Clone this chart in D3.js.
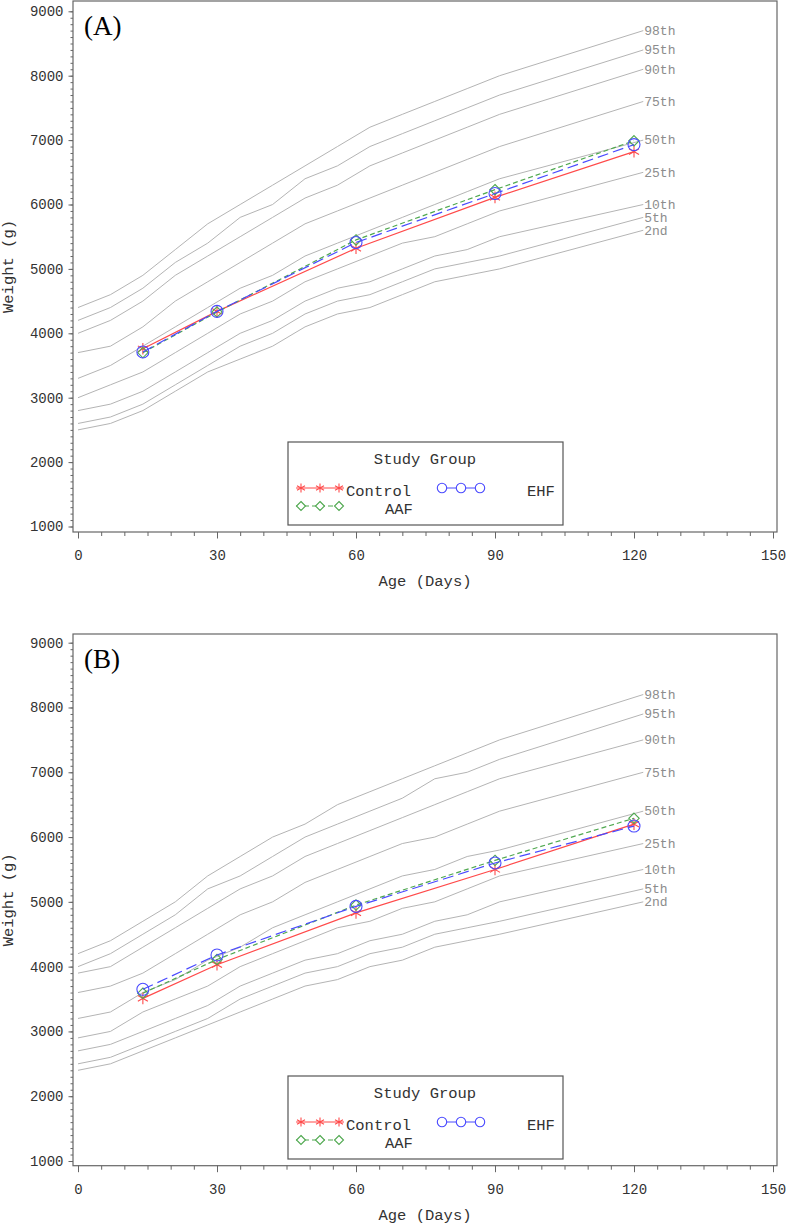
<!DOCTYPE html>
<html>
<head>
<meta charset="utf-8">
<script src="https://cdn.jsdelivr.net/npm/d3@7/dist/d3.min.js"></script>
<style>
  html, body { margin: 0; padding: 0; background: #fff; }
  svg { display: block; }
</style>
</head>
<body>
<svg id="chart" width="786" height="1227"></svg>
<script>
// ---------- DATA ----------
const ages = [0, 7, 14, 21, 28, 35, 42, 49, 56, 63, 70, 77, 84, 91, 122];
const percentileLabels = ["2nd", "5th", "10th", "25th", "50th", "75th", "90th", "95th", "98th"];

// Reference weight curves (g), one row per percentile (panel A)
const boysCurves = [
  [2500, 2600, 2800, 3100, 3400, 3600, 3800, 4100, 4300, 4400, 4600, 4800, 4900, 5000, 5600],
  [2600, 2700, 2900, 3200, 3500, 3800, 4000, 4300, 4500, 4600, 4800, 5000, 5100, 5200, 5800],
  [2800, 2900, 3100, 3400, 3700, 4000, 4200, 4500, 4700, 4800, 5000, 5200, 5300, 5500, 6000],
  [3000, 3200, 3400, 3700, 4000, 4300, 4500, 4800, 5000, 5200, 5400, 5500, 5700, 5900, 6500],
  [3300, 3500, 3800, 4100, 4400, 4700, 4900, 5200, 5400, 5600, 5800, 6000, 6200, 6400, 7000],
  [3700, 3800, 4100, 4500, 4800, 5100, 5400, 5700, 5900, 6100, 6300, 6500, 6700, 6900, 7600],
  [4000, 4200, 4500, 4900, 5200, 5500, 5800, 6100, 6300, 6600, 6800, 7000, 7200, 7400, 8100],
  [4200, 4400, 4700, 5100, 5400, 5800, 6000, 6400, 6600, 6900, 7100, 7300, 7500, 7700, 8400],
  [4400, 4600, 4900, 5300, 5700, 6000, 6300, 6600, 6900, 7200, 7400, 7600, 7800, 8000, 8700]
];
// Reference weight curves (g), one row per percentile (panel B)
const girlsCurves = [
  [2400, 2500, 2700, 2900, 3100, 3300, 3500, 3700, 3800, 4000, 4100, 4300, 4400, 4500, 5000],
  [2500, 2600, 2800, 3000, 3200, 3500, 3700, 3900, 4000, 4200, 4300, 4500, 4600, 4700, 5200],
  [2700, 2800, 3000, 3200, 3400, 3700, 3900, 4100, 4200, 4400, 4500, 4700, 4800, 5000, 5500],
  [2900, 3000, 3300, 3500, 3700, 4000, 4200, 4400, 4600, 4700, 4900, 5000, 5200, 5400, 5900],
  [3200, 3300, 3600, 3800, 4100, 4300, 4600, 4800, 5000, 5200, 5400, 5500, 5700, 5800, 6400],
  [3600, 3700, 3900, 4200, 4500, 4800, 5000, 5300, 5500, 5700, 5900, 6000, 6200, 6400, 7000],
  [3900, 4000, 4300, 4600, 4900, 5200, 5400, 5700, 5900, 6100, 6300, 6500, 6700, 6900, 7500],
  [4000, 4200, 4500, 4800, 5200, 5400, 5700, 6000, 6200, 6400, 6600, 6900, 7000, 7200, 7900],
  [4200, 4400, 4700, 5000, 5400, 5700, 6000, 6200, 6500, 6700, 6900, 7100, 7300, 7500, 8200]
];

const visitDays = [14, 30, 60, 90, 120];
const groupNames = ["Control", "AAF", "EHF"];
// Panel A
const controlA = [3760, 4340, 5320, 6110, 6820];
const aafA     = [3700, 4330, 5450, 6230, 6990];
const ehfA     = [3710, 4340, 5410, 6170, 6930];
// Panel B
const controlB = [3510, 4030, 4830, 5500, 6200];
const aafB     = [3590, 4110, 4950, 5640, 6290];
const ehfB     = [3650, 4180, 4930, 5600, 6170];

const xMajorTicks = [0, 30, 60, 90, 120, 150];
const yMajorTicks = [1000, 2000, 3000, 4000, 5000, 6000, 7000, 8000, 9000];

// ---------- STYLE ----------
const MONO = "'Liberation Mono', 'DejaVu Sans Mono', monospace";
const AXIS_COLOR = "#666";
const TEXT_COLOR = "#333";
const CURVE_COLOR = "#b4b4b4";
const groupStyle = {
  Control: { color: "#ff4a4a", dash: null, symbol: "asterisk" },
  AAF:     { color: "#4fa84f", dash: "5,3", symbol: "diamond" },
  EHF:     { color: "#4a4aff", dash: "11,5", symbol: "circle" }
};

const svg = d3.select("#chart");

function markerPath(type, r) {
  if (type === "asterisk") {
    const dx = r * Math.cos(Math.PI / 6), dy = r * Math.sin(Math.PI / 6);
    return `M0,${-r}L0,${r}M${-dx},${-dy}L${dx},${dy}M${-dx},${dy}L${dx},${-dy}`;
  }
  if (type === "diamond") {
    return `M0,${-r}L${r},0L0,${r}L${-r},0Z`;
  }
  return `M${r},0A${r},${r},0,1,1,${-r},0A${r},${r},0,1,1,${r},0`;
}

function drawPanel(cfg) {
  const g = svg.append("g");
  const left = 73, right = 777;
  const x = d3.scaleLinear().domain([0, 150]).range([78, 773]);
  const y = d3.scaleLinear().domain([1000, 9000]).range(cfg.yRange);

  // frame
  g.append("rect")
    .attr("x", left).attr("y", cfg.top)
    .attr("width", right - left).attr("height", cfg.axisY - cfg.top)
    .attr("fill", "none").attr("stroke", AXIS_COLOR).attr("stroke-width", 1.2);

  // y axis (major + minor)
  const yMinor = g.append("g").attr("transform", `translate(${left},0)`)
    .call(d3.axisLeft(y).tickValues(d3.range(1000, 9001, 100)).tickSize(2.5).tickFormat(""));
  yMinor.select(".domain").remove();
  yMinor.selectAll("line").attr("stroke", AXIS_COLOR);

  const yAx = g.append("g").attr("transform", `translate(${left},0)`)
    .call(d3.axisLeft(y).tickValues(yMajorTicks).tickSize(4.5).tickPadding(5).tickFormat(d3.format("d")));
  yAx.select(".domain").remove();
  yAx.selectAll("line").attr("stroke", AXIS_COLOR);
  yAx.selectAll("text").attr("font-family", MONO).attr("font-size", "14px").attr("fill", TEXT_COLOR);

  // x axis (major + minor)
  const xMinor = g.append("g").attr("transform", `translate(0,${cfg.axisY})`)
    .call(d3.axisBottom(x).tickValues(d3.range(0, 151, 5)).tickSize(4).tickFormat(""));
  xMinor.select(".domain").remove();
  xMinor.selectAll("line").attr("stroke", AXIS_COLOR);

  const xAx = g.append("g").attr("transform", `translate(0,${cfg.axisY})`)
    .call(d3.axisBottom(x).tickValues(xMajorTicks).tickSize(6.5).tickPadding(12).tickFormat(d3.format("d")));
  xAx.select(".domain").remove();
  xAx.selectAll("line").attr("stroke", AXIS_COLOR);
  xAx.selectAll("text").attr("font-family", MONO).attr("font-size", "14px").attr("fill", TEXT_COLOR);

  // axis titles
  g.append("text")
    .attr("transform", `translate(13,${(cfg.top + cfg.axisY) / 2}) rotate(-90)`)
    .attr("text-anchor", "middle")
    .attr("font-family", MONO).attr("font-size", "15.5px").attr("fill", TEXT_COLOR)
    .text("Weight (g)");
  g.append("text")
    .attr("x", (left + right) / 2).attr("y", cfg.axisY + 54)
    .attr("text-anchor", "middle")
    .attr("font-family", MONO).attr("font-size", "15.5px").attr("fill", TEXT_COLOR)
    .text("Age (Days)");

  // panel label
  g.append("text")
    .attr("x", 84).attr("y", cfg.top + 34)
    .attr("font-family", "'Liberation Serif', 'DejaVu Serif', serif")
    .attr("font-size", "27px").attr("fill", "#000")
    .text(cfg.label);

  // percentile curves
  const line = d3.line().x((d, i) => x(ages[i])).y(d => y(d));
  cfg.curves.forEach((row, k) => {
    g.append("path")
      .attr("d", line(row))
      .attr("fill", "none").attr("stroke", CURVE_COLOR).attr("stroke-width", 1);
    g.append("text")
      .attr("x", x(ages[ages.length - 1]) + 1)
      .attr("y", y(row[row.length - 1]))
      .attr("dy", "0.33em")
      .attr("font-family", MONO).attr("font-size", "13px").attr("fill", "#8c8c8c")
      .text(percentileLabels[k]);
  });

  // study groups
  const gl = d3.line().x((d, i) => x(visitDays[i])).y(d => y(d));
  cfg.groups.forEach(([name, vals]) => {
    const st = groupStyle[name];
    g.append("path")
      .attr("d", gl(vals))
      .attr("fill", "none").attr("stroke", st.color).attr("stroke-width", 1.2)
      .attr("stroke-dasharray", st.dash);
    const r = st.symbol === "circle" ? 6 : (st.symbol === "diamond" ? 5.2 : 5.8);
    g.selectAll(null).data(vals).enter().append("path")
      .attr("transform", (d, i) => `translate(${x(visitDays[i])},${y(d)})`)
      .attr("d", markerPath(st.symbol, r))
      .attr("fill", "none").attr("stroke", st.color).attr("stroke-width", 1.1);
  });

  // legend
  const lg = g.append("g").attr("transform", `translate(0,${cfg.legendTop})`);
  lg.append("rect").attr("x", 288).attr("y", 0).attr("width", 275).attr("height", 83)
    .attr("fill", "#fff").attr("stroke", "#555").attr("stroke-width", 1.2);
  lg.append("text").attr("x", 425).attr("y", 17).attr("dy", "0.35em")
    .attr("text-anchor", "middle")
    .attr("font-family", MONO).attr("font-size", "15.5px").attr("fill", TEXT_COLOR)
    .text("Study Group");

  const legendItems = [
    { name: "Control", xs: [301, 320, 339], lx: [296, 344], sy: 46, tx: 346, ty: 49 },
    { name: "AAF",     xs: [301, 320, 339], lx: [296, 339], sy: 64, tx: 385, ty: 67 },
    { name: "EHF",     xs: [442, 461, 480], lx: [442, 480], sy: 46, tx: 527, ty: 49 }
  ];
  legendItems.forEach(it => {
    const st = groupStyle[it.name];
    lg.append("line").attr("x1", it.lx[0]).attr("x2", it.lx[1])
      .attr("y1", it.sy).attr("y2", it.sy)
      .attr("stroke", st.color).attr("stroke-width", 1.1)
      .attr("stroke-dasharray", it.name === "AAF" ? "5,3" : null);
    const r = st.symbol === "circle" ? 4.7 : (st.symbol === "diamond" ? 4.5 : 4.6);
    it.xs.forEach(px => {
      lg.append("path").attr("transform", `translate(${px},${it.sy})`)
        .attr("d", markerPath(st.symbol, r))
        .attr("fill", st.symbol === "asterisk" ? "none" : "#fff")
        .attr("stroke", st.color).attr("stroke-width", 1.1);
    });
    lg.append("text").attr("x", it.tx).attr("y", it.ty).attr("dy", "0.35em")
      .attr("font-family", MONO).attr("font-size", "15.5px").attr("fill", TEXT_COLOR)
      .text(it.name);
  });
}

drawPanel({
  label: "(A)", top: 1, axisY: 532, yRange: [526.5, 11.3], legendTop: 442,
  curves: boysCurves,
  groups: [["Control", controlA], ["AAF", aafA], ["EHF", ehfA]]
});
drawPanel({
  label: "(B)", top: 634, axisY: 1165.7, yRange: [1161, 642.7], legendTop: 1076,
  curves: girlsCurves,
  groups: [["Control", controlB], ["AAF", aafB], ["EHF", ehfB]]
});
</script>
</body>
</html>
